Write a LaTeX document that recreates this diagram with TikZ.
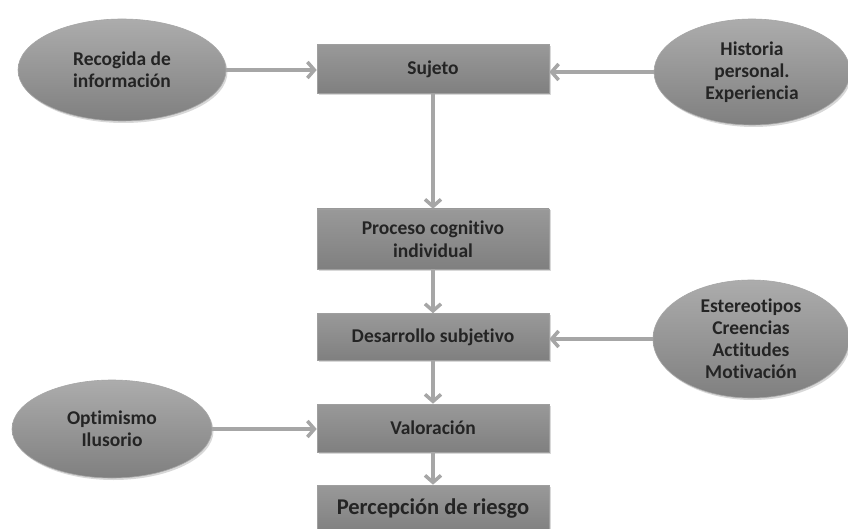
\documentclass[tikz,border=0pt]{standalone}
\usepackage{fontspec}
\setsansfont{Carlito}[Ligatures=NoCommon]
\usetikzlibrary{arrows.meta, shapes.geometric, shadows}
\definecolor{txtgray}{HTML}{242424}
\definecolor{arrowgray}{HTML}{A6A6A6}
\tikzset{>={Straight Barb[length=7pt,width=16pt]}}
\tikzset{
    paso/.style = {rectangle, draw=gray!75, line width=0.6pt,
        top color=gray!80, bottom color=gray!100,
        minimum width=232pt, align=center, text=txtgray,
        font=\sffamily\bfseries\fontsize{19.5}{23}\selectfont,
        drop shadow={shadow xshift=1.5pt, shadow yshift=-1.5pt, opacity=.3}},
    factor/.style = {ellipse, draw=gray!70, line width=0.6pt, inner sep=0pt,
        top color=gray!65, bottom color=gray!100,
        align=center, text=txtgray,
        font=\sffamily\bfseries\fontsize{19.5}{22}\selectfont,
        drop shadow={shadow xshift=1.5pt, shadow yshift=-2pt, opacity=.3}},
    flecha/.style = {->, draw=arrowgray, line width=3.5pt}
}

\begin{document}
\begin{tikzpicture}[x=1pt, y=-1pt]
    \useasboundingbox[fill=white] (0,0) rectangle (848,529);
    % central chain
    \node[paso, minimum height=49pt] (suj) at (433,69) {Sujeto};
    \node[paso, minimum height=60pt] (proc) at (433,239) {Proceso cognitivo\\individual};
    \node[paso, minimum height=47pt] (des) at (433,337) {Desarrollo subjetivo};
    \node[paso, minimum height=48pt] (val) at (433,428) {Valoración};
    \node[paso, minimum height=48pt, font=\sffamily\bfseries\fontsize{22.5}{26}\selectfont] (perc) at (433,509) {Percepción de riesgo};
    % influences
    \node[factor, minimum width=208pt, minimum height=102pt] (rec) at (122,70) {Recogida de\\información};
    \node[factor, minimum width=196pt, minimum height=106pt] (hist) at (752,72) {Historia\\personal.\\Experiencia};
    \node[factor, minimum width=196pt, minimum height=118pt] (est) at (751,339) {Estereotipos\\Creencias\\Actitudes\\Motivación};
    \node[factor, minimum width=200pt, minimum height=98pt] (opt) at (112,429) {Optimismo\\Ilusorio};
    % arrows
    \draw[flecha] (rec.east) -- (rec.east -| suj.west);
    \draw[flecha] (hist.west) -- (hist.west -| suj.east);
    \draw[flecha] (suj) -- (proc);
    \draw[flecha] (proc) -- (des);
    \draw[flecha] (est.west) -- (est.west -| des.east);
    \draw[flecha] (des) -- (val);
    \draw[flecha] (opt.east) -- (opt.east -| val.west);
    \draw[flecha] (val) -- (perc);
\end{tikzpicture}
\end{document}
